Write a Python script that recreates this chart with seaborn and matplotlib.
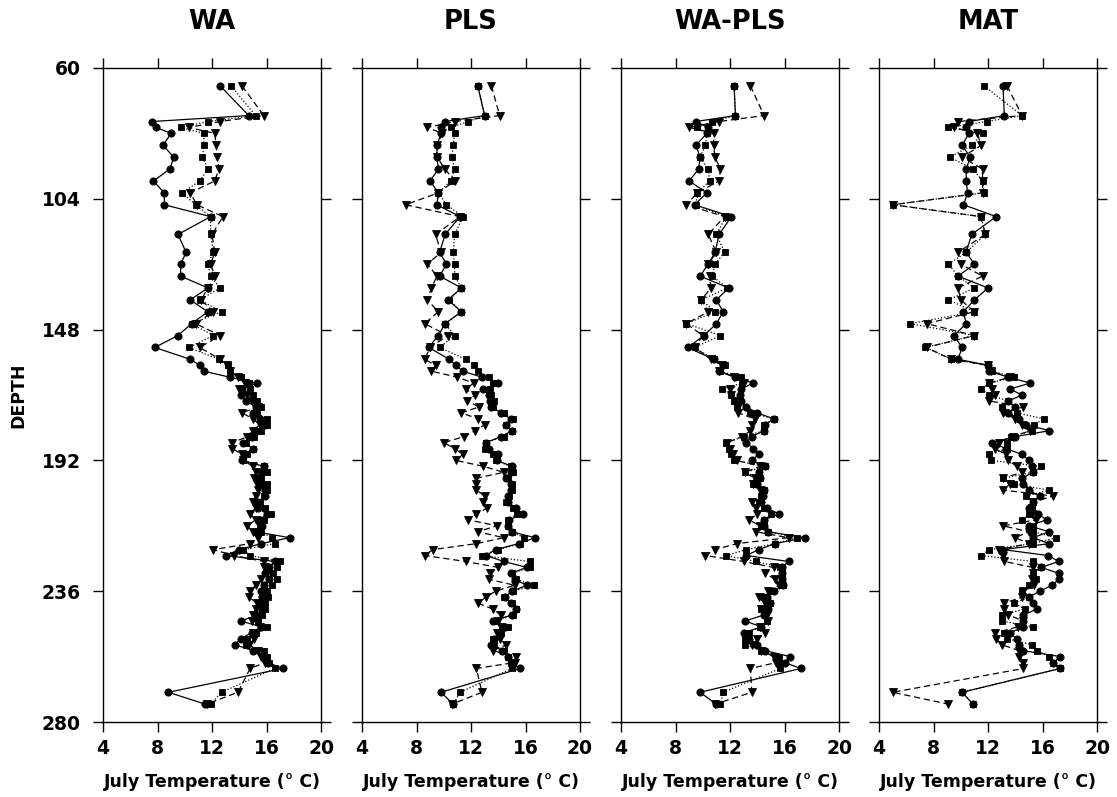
import numpy as np
import pandas as pd
import matplotlib
matplotlib.use("Agg")
import matplotlib.pyplot as plt
import seaborn as sns

# Sample depths shared by every reconstruction
DEPTH = [66, 76, 78, 80, 82, 86, 90, 94, 98, 102, 106, 110, 116, 122, 126, 130,
         134, 138, 142, 146, 150, 154,
         158, 160, 162, 164,
         166, 168, 170, 172, 174, 176, 178, 180, 182, 184, 186, 188, 190, 192,
         194, 196, 198, 200, 202, 204, 206, 208, 210, 212, 214, 216, 218, 220,
         222, 224, 226, 228, 230, 232, 234, 236, 238, 240, 242, 244, 246, 248,
         250, 252, 254, 256, 258, 260, 262,
         270, 274]

METHODS = ["WA", "PLS", "WA-PLS", "MAT"]
RUNS = ["run A", "run B", "run C"]

# July temperature reconstructions (deg C), one list per method and run
wa_a = [12.6, 14.7, 7.6, 7.9, 9.0, 8.4, 9.2, 8.9, 7.7, 8.5, 8.5, 11.9, 9.5, 10.1, 9.7, 9.7,
        11.7, 10.4, 11.7, 10.5, 9.5, 7.8,
        10.4, 11.1, 11.4, 13.3,
        15.3, 14.2, 14.1, 14.5, 15.2, 15.0, 15.5, 15.9, 15.2, 14.9, 14.3, 15.0, 14.4, 14.2,
        15.8, 15.7, 15.4, 15.6, 15.9, 15.9, 15.3, 15.4, 16.0, 15.5, 15.7, 15.2, 17.7, 15.6,
        14.0, 13.0, 16.6, 16.2, 15.9, 16.2, 15.8, 15.6, 15.7, 15.5, 15.7, 15.4, 14.1, 15.6,
        14.9, 14.1, 13.7, 15.0, 15.8, 16.1, 17.2,
        8.8, 11.5]
wa_b = [13.4, 15.2, 11.7, 9.7, 11.4, 11.4, 11.3, 11.7, 11.1, 9.8, 10.8, 11.9, 11.9, 12.1, 11.7, 11.9,
        12.6, 11.1, 12.7, 10.5, 12.1, 10.3,
        12.5, 13.2, 13.3, 14.1,
        14.7, 14.8, 15.0, 15.3, 15.6, 15.3, 16.0, 16.0, 15.6, 15.1, 14.5, 15.0, 14.6, 14.3,
        15.8, 16.0, 15.6, 16.0, 16.0, 15.8, 15.5, 15.9, 16.3, 15.8, 15.5, 15.6, 16.4, 16.6,
        14.3, 14.8, 17.0, 16.8, 16.5, 16.8, 16.4, 16.0, 16.1, 15.9, 15.9, 15.7, 15.4, 16.0,
        15.2, 14.6, 14.5, 15.8, 16.0, 16.2, 16.6,
        12.7, 11.9]
wa_c = [14.2, 15.8, 12.6, 10.3, 12.2, 12.3, 12.4, 12.5, 12.2, 10.4, 10.9, 12.8, 12.0, 12.2, 11.9, 12.2,
        11.7, 11.2, 12.1, 10.8, 12.6, 11.1,
        12.6, 13.1, 13.3, 13.9,
        14.4, 14.0, 14.6, 14.9, 15.4, 14.2, 15.0, 15.5, 15.0, 14.6, 13.5, 13.5, 14.2, 14.3,
        15.0, 15.2, 15.1, 15.3, 15.4, 15.2, 15.0, 15.2, 14.8, 15.2, 14.6, 15.0, 15.4, 14.8,
        12.1, 13.6, 15.8, 15.8, 16.0, 15.6, 15.2, 14.8, 14.7, 15.3, 15.2, 15.0, 14.9, 15.5,
        15.0, 15.1, 14.7, 15.4, 15.6, 15.9, 14.8,
        13.9, 11.6]

pls_a = [12.5, 13.0, 10.1, 9.8, 9.8, 9.5, 9.5, 9.6, 9.0, 9.6, 9.5, 11.2, 10.1, 9.7, 10.2, 9.7,
         11.3, 10.3, 11.3, 10.1, 9.6, 8.9,
         10.4, 10.9, 11.4, 12.8,
         14.0, 12.9, 13.3, 13.4, 13.5, 14.2, 14.9, 14.6, 15.0, 14.2, 13.1, 13.3, 14.0, 13.9,
         15.0, 14.9, 14.6, 14.9, 14.9, 14.7, 14.7, 15.3, 15.8, 14.8, 14.7, 15.0, 16.7, 15.5,
         13.8, 13.1, 14.4, 16.1, 14.9, 15.2, 16.1, 15.0, 14.5, 14.9, 15.3, 15.0, 13.6, 14.5,
         14.1, 13.7, 13.5, 14.3, 14.7, 15.0, 15.6,
         9.8, 10.7]
pls_b = [12.5, 13.0, 11.8, 10.5, 10.8, 10.7, 10.6, 10.8, 10.5, 9.6, 10.2, 11.4, 10.8, 10.7, 10.8, 10.8,
         11.3, 10.4, 11.3, 10.1, 10.8, 9.7,
         11.6, 12.2, 12.5, 13.3,
         13.6, 13.4, 13.5, 13.7, 13.6, 14.4, 15.1, 14.6, 15.0, 14.4, 13.1, 13.0, 13.6, 13.8,
         14.9, 15.1, 14.7, 15.0, 15.0, 14.8, 14.6, 15.1, 15.4, 14.7, 14.7, 15.0, 15.9, 15.6,
         14.0, 12.8, 16.3, 16.3, 15.0, 15.3, 16.6, 15.1, 14.4, 15.0, 15.3, 15.1, 13.8, 14.7,
         14.2, 13.6, 13.7, 14.4, 14.7, 14.9, 15.0,
         11.2, 10.7]
pls_c = [13.5, 14.1, 10.8, 8.8, 9.9, 9.5, 9.5, 10.1, 10.8, 9.6, 7.2, 11.2, 9.4, 9.8, 8.8, 9.5,
         9.1, 8.8, 9.6, 8.6, 10.3, 9.0,
         8.6, 9.4, 9.1, 11.0,
         12.2, 11.6, 12.3, 11.7, 12.6, 11.3, 12.5, 13.0, 12.3, 11.5, 10.0, 10.8, 11.4, 10.9,
         12.9, 14.4, 12.4, 12.4, 12.4, 13.0, 12.9, 13.2, 12.4, 11.8, 13.9, 12.5, 14.4, 12.4,
         9.2, 8.6, 11.6, 14.0, 13.4, 13.3, 15.2, 13.8, 13.1, 12.5, 13.6, 14.2, 14.0, 14.2,
         13.9, 14.1, 14.6, 13.6, 15.3, 15.2, 12.4,
         12.8, 10.6]

wapls_a = [12.3, 12.4, 9.5, 10.4, 10.3, 9.5, 9.8, 9.7, 9.0, 10.3, 9.4, 12.1, 11.2, 10.9, 10.4, 9.8,
           11.9, 11.0, 11.5, 11.0, 10.1, 8.9,
           10.8, 11.5, 11.2, 12.4,
           13.7, 12.8, 12.7, 12.8, 13.2, 14.0, 15.2, 14.6, 14.5, 13.6, 13.2, 13.7, 14.1, 13.6,
           14.6, 14.1, 14.2, 14.0, 14.5, 14.4, 14.3, 14.7, 15.6, 14.5, 14.5, 14.8, 17.5, 15.3,
           14.1, 13.2, 16.3, 15.8, 15.8, 15.8, 15.9, 15.2, 14.7, 14.9, 14.8, 14.5, 13.1, 14.3,
           13.0, 13.4, 14.0, 14.6, 16.4, 16.0, 17.2,
           9.8, 11.0]
wapls_b = [12.3, 12.4, 10.7, 9.6, 10.3, 10.2, 9.8, 10.4, 10.5, 9.6, 9.5, 11.7, 11.0, 11.6, 10.9, 10.7,
           11.8, 9.9, 10.9, 8.8, 11.3, 9.4,
           10.8, 11.6, 11.3, 12.8,
           12.9, 11.4, 12.1, 12.3, 12.5, 13.5, 15.2, 14.5, 14.5, 13.0, 11.7, 11.9, 12.1, 12.3,
           14.6, 13.1, 14.2, 13.7, 14.5, 14.3, 14.1, 14.5, 15.0, 14.5, 14.5, 14.8, 16.9, 15.3,
           13.2, 11.7, 13.9, 15.7, 15.8, 15.8, 15.9, 15.1, 14.5, 14.9, 14.3, 14.6, 14.7, 14.2,
           13.4, 13.1, 13.1, 14.3, 15.6, 15.7, 15.7,
           11.5, 11.3]
wapls_c = [13.5, 14.5, 11.2, 9.0, 10.8, 10.8, 10.9, 11.3, 11.2, 9.6, 8.8, 11.6, 10.4, 11.0, 10.4, 10.5,
           10.6, 9.9, 10.4, 8.8, 10.0, 9.4,
           10.6, 11.4, 11.2, 12.3,
           13.0, 12.0, 12.1, 12.3, 12.6, 12.6, 13.8, 13.6, 13.5, 12.9, 11.8, 12.0, 12.2, 12.5,
           14.2, 13.1, 13.8, 13.7, 14.2, 14.4, 13.6, 13.9, 14.0, 13.4, 14.2, 13.9, 16.3, 12.5,
           10.9, 10.2, 13.0, 15.2, 14.6, 15.3, 15.6, 14.8, 14.1, 14.6, 14.3, 14.7, 14.8, 14.2,
           14.6, 14.0, 13.6, 14.3, 15.2, 15.4, 13.5,
           13.6, 10.9]

mat_a = [13.1, 13.2, 10.6, 10.4, 10.6, 10.1, 10.7, 10.4, 10.4, 10.5, 10.2, 12.6, 10.8, 10.4, 11.0, 9.8,
         12.0, 11.0, 10.2, 10.4, 9.5, 10.1,
         9.8, 12.0, 12.1, 13.5,
         15.1, 13.6, 14.5, 13.5, 14.0, 13.5, 14.3, 14.8, 16.5, 14.0, 12.3, 13.3, 14.5, 15.0,
         15.2, 15.3, 14.5, 14.6, 15.0, 15.8, 15.3, 15.0, 15.7, 16.3, 15.0, 16.5, 15.3, 16.5,
         13.1, 16.4, 17.2, 15.9, 17.2, 17.2, 16.7, 15.8, 15.0, 15.3, 15.6, 14.6, 14.6, 14.6,
         13.6, 14.1, 14.3, 14.6, 17.3, 16.8, 17.3,
         10.1, 10.9]
mat_b = [11.7, 14.5, 11.9, 9.1, 11.6, 10.8, 9.2, 10.9, 11.6, 11.7, 5.0, 11.5, 11.8, 10.4, 9.1, 9.8,
         11.0, 9.1, 11.0, 6.3, 11.0, 7.4,
         9.3, 12.0, 12.3, 13.9,
         12.1, 11.5, 12.1, 13.5, 13.0, 14.1, 16.1, 15.4, 15.2, 13.7, 13.4, 13.4, 12.1, 12.2,
         15.9, 15.3, 13.1, 13.9, 16.5, 14.8, 15.3, 15.2, 15.0, 14.5, 15.3, 15.3, 17.0, 15.3,
         12.1, 11.5, 15.3, 15.9, 15.3, 15.5, 15.0, 14.5, 15.0, 13.9, 14.7, 13.0, 13.0, 15.3,
         13.2, 13.4, 15.2, 15.6, 16.5, 16.8, 17.3,
         10.1, 10.9]
mat_c = [13.4, 14.5, 9.8, 9.5, 11.2, 11.5, 10.1, 11.6, 11.6, 11.6, 5.0, 11.5, 11.8, 9.8, 10.0, 11.6,
         9.8, 10.0, 11.0, 7.5, 11.0, 7.5,
         9.3, 12.0, 12.2, 13.6,
         12.1, 12.3, 12.5, 12.1, 14.6, 13.1, 14.0, 14.5, 15.1, 13.8, 12.8, 12.5, 13.3, 13.5,
         14.1, 14.5, 13.1, 13.6, 13.1, 16.8, 15.3, 15.2, 15.2, 15.5, 13.1, 15.0, 14.0, 15.0,
         12.8, 13.1, 13.2, 15.3, 15.3, 15.2, 15.4, 14.6, 14.5, 13.2, 13.2, 13.5, 14.6, 14.2,
         12.5, 12.6, 13.0, 14.3, 14.3, 14.6, 14.6,
         5.0, 9.1]

SERIES = {
    "WA": [wa_a, wa_b, wa_c],
    "PLS": [pls_a, pls_b, pls_c],
    "WA-PLS": [wapls_a, wapls_b, wapls_c],
    "MAT": [mat_a, mat_b, mat_c],
}

X_TICKS = [4, 8, 12, 16, 20]
Y_TICKS = [60, 104, 148, 192, 236, 280]

# Long-form table for seaborn
rows = []
for method in METHODS:
    for run, temps in zip(RUNS, SERIES[method]):
        for d, t in zip(DEPTH, temps):
            rows.append((method, run, d, t))
df = pd.DataFrame(rows, columns=["method", "run", "depth", "temp"])

sns.set_theme(style="ticks")
plt.rcParams["font.family"] = ["DejaVu Sans"]
plt.rcParams["font.weight"] = "bold"
plt.rcParams.update({
    "text.color": "black",
    "axes.labelcolor": "black",
    "xtick.color": "black",
    "ytick.color": "black",
    "axes.edgecolor": "black",
})

STYLE = {
    "run A": dict(marker="o", markersize=5.2, linestyle="-"),
    "run B": dict(marker="s", markersize=4.8, linestyle=(0, (1, 1.6))),
    "run C": dict(marker="v", markersize=5.8, linestyle=(0, (5, 3))),
}

W, H = 1117, 797
fig = plt.figure(figsize=(W / 100, H / 100), dpi=100)
lefts = [103, 362, 621, 879]
ax_w, ax_top, ax_bot = 218, 68, 722

for i, method in enumerate(METHODS):
    ax = fig.add_axes([lefts[i] / W, 1 - ax_bot / H, ax_w / W, (ax_bot - ax_top) / H])
    sub = df[df["method"] == method]
    for run in RUNS:
        sns.lineplot(data=sub[sub["run"] == run], x="temp", y="depth", orient="y",
                     estimator=None, sort=True, color="black", linewidth=0.9,
                     markeredgecolor="black", markeredgewidth=0.6,
                     legend=False, ax=ax, **STYLE[run])
    ax.set_xlim(4, 20)
    ax.set_ylim(280, 60)
    ax.set_xticks(X_TICKS)
    ax.set_yticks(Y_TICKS)
    ax.tick_params(axis="both", which="both", direction="out", length=7, width=1.0,
                   top=True, right=True, labeltop=False, labelright=False,
                   color="black", labelcolor="black", labelsize=13.5, pad=5)
    ax.tick_params(axis="y", pad=9)
    for lab in ax.get_xticklabels() + ax.get_yticklabels():
        lab.set_fontweight("bold")
    for sp in ax.spines.values():
        sp.set_linewidth(1.0)
        sp.set_color("black")
    if i > 0:
        ax.set_yticklabels([])
        ax.set_ylabel("")
    else:
        ax.set_ylabel("DEPTH", fontsize=12.5, fontweight="bold", color="black")
        ax.yaxis.set_label_coords((18 - lefts[0]) / ax_w, 0.5)
        ax.yaxis.label.set_va("center")
    ax.set_xlabel("July Temperature (° C)", fontsize=12.5, fontweight="bold", color="black")
    ax.xaxis.set_label_coords(0.5, -(782 - ax_bot) / (ax_bot - ax_top))
    ax.xaxis.label.set_va("center")
    ax.text(0.5, 1 + (ax_top - 22) / (ax_bot - ax_top), method, transform=ax.transAxes,
            ha="center", va="center", fontsize=18.5, fontweight="bold", color="black")
    ax.grid(False)

fig.savefig("out.png", dpi=100, facecolor="white")
